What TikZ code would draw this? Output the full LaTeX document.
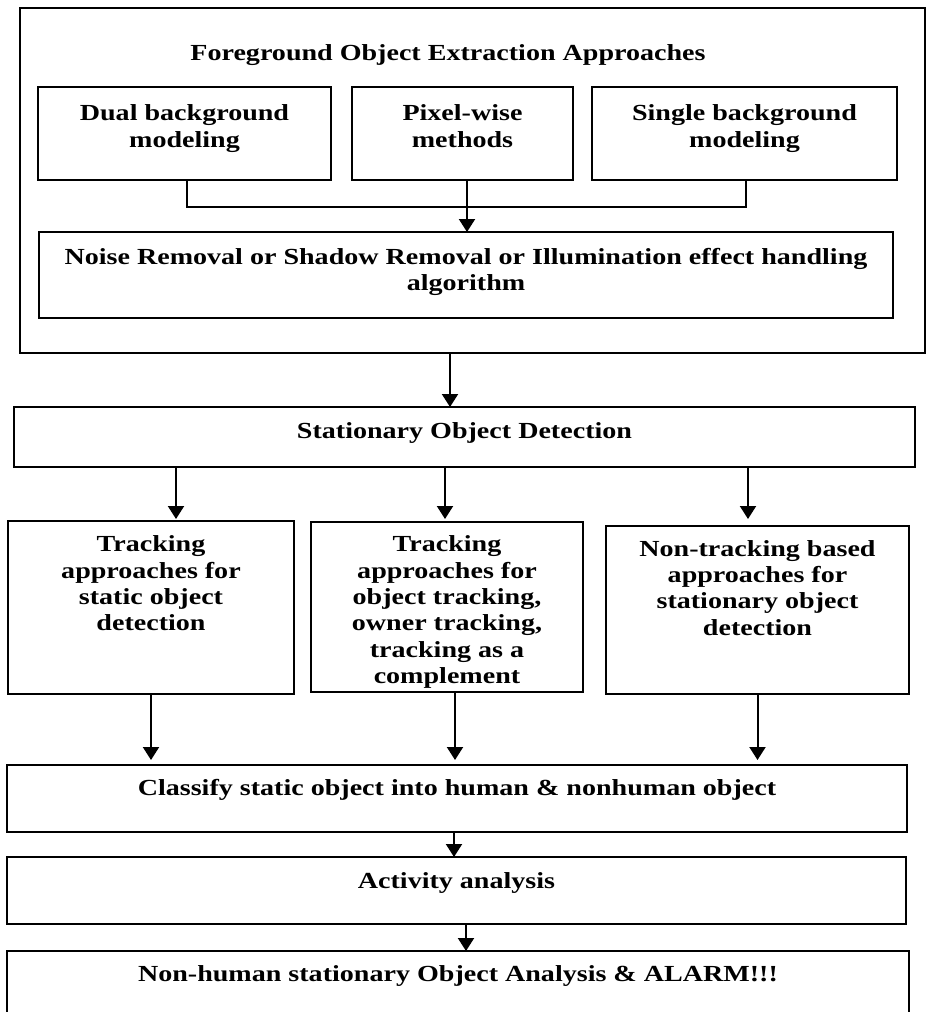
\documentclass[tikz,border=0pt]{standalone}
\usepackage{fontspec}
\setmainfont{Liberation Serif}[FakeStretch=1.22]
\usetikzlibrary{arrows.meta}
\newcommand\bfnt{\fontsize{23}{26.4}\selectfont\bfseries}
\newcommand\bxtext[4]{\parbox[c][#2][t]{#1}{\centering\vspace*{#3}\rule{0pt}{20pt}#4\par}}
\tikzset{
  bx/.style={draw, line width=2.2pt, inner sep=0pt, outer sep=0pt, anchor=north west, font=\bfnt},
  outerbx/.style={draw, line width=2.6pt, inner sep=0pt, outer sep=0pt, anchor=north west,
                  minimum width=905pt, minimum height=345pt},
  txt/.style={font=\bfnt, inner sep=0pt},
  ln/.style={line width=2pt},
  arr/.style={line width=2pt, -{Triangle[width=16pt,length=13pt]}}
}
\begin{document}
\begin{tikzpicture}[x=1pt, y=-1pt]
\useasboundingbox (0,0) rectangle (929,1012);
\fill[white] (0,0) rectangle (929,1012);
\clip (0,0) rectangle (929,1012);

\node[outerbx] (outer) at (20,8) {};
\node[txt, anchor=base] (title) at (448,60) {Foreground Object Extraction Approaches};

\node[bx] (dual) at (38,87) {\bxtext{293pt}{93pt}{13.7pt}{Dual background\\modeling}};
\node[bx] (pixel) at (352,87) {\bxtext{221pt}{93pt}{13.7pt}{Pixel-wise\\methods}};
\node[bx] (single) at (592,87) {\bxtext{305pt}{93pt}{13.7pt}{Single background\\modeling}};
\node[bx] (noise) at (39,232) {\bxtext{854pt}{86pt}{12pt}{Noise Removal or Shadow Removal or Illumination effect handling\\algorithm}};

\node[bx] (stat) at (14,407) {\bxtext{901pt}{60pt}{11pt}{Stationary Object Detection}};

\node[bx] (t1) at (8,521) {\bxtext{286pt}{173pt}{10.7pt}{Tracking\\approaches for\\static object\\detection}};
\node[bx] (t2) at (311,522) {\bxtext{272pt}{170pt}{9.7pt}{Tracking\\approaches for\\object tracking,\\owner tracking,\\tracking as a\\complement}};
\node[bx] (t3) at (606,526) {\bxtext{303pt}{168pt}{10pt}{Non-tracking based\\approaches for\\stationary object\\detection}};

\node[bx] (cls) at (7,765) {\bxtext{900pt}{67pt}{10pt}{Classify static object into human \& nonhuman object}};
\node[bx] (act) at (7,857) {\bxtext{899pt}{67pt}{11pt}{Activity analysis}};
\node[bx] (nh) at (7,951) {\bxtext{902pt}{80pt}{10.7pt}{Non-human stationary Object Analysis \& ALARM!!!}};

% connectors inside the extraction block
\coordinate (hb) at (0,207);
\draw[ln] ([xshift=2.5pt]dual.south) -- ([xshift=2.5pt]dual.south |- hb)
          -- ([xshift=1.5pt]single.south |- hb) -- ([xshift=1.5pt]single.south);
\draw[arr] ([xshift=4.5pt]pixel.south) -- ([xshift=4.5pt]pixel.south |- noise.north);

% block -> stationary detection
\draw[arr] ([xshift=-22.5pt]outer.south) -- ([xshift=-22.5pt]outer.south |- stat.north);

% stationary detection -> three approaches
\draw[arr, shorten >=2pt] ([xshift=25pt]t1.north |- stat.south) -- ([xshift=25pt]t1.north);
\draw[arr, shorten >=3pt] ([xshift=-2pt]t2.north |- stat.south) -- ([xshift=-2pt]t2.north);
\draw[arr, shorten >=7pt] ([xshift=-9.5pt]t3.north |- stat.south) -- ([xshift=-9.5pt]t3.north);

% approaches -> classify
\draw[arr, shorten >=5pt] (t1.south) -- (t1.south |- cls.north);
\draw[arr, shorten >=5pt] ([xshift=8pt]t2.south) -- ([xshift=8pt]t2.south |- cls.north);
\draw[arr, shorten >=5pt] (t3.south) -- (t3.south |- cls.north);

% classify -> activity -> alarm
\draw[arr] ([xshift=-3pt]cls.south) -- ([xshift=-3pt]cls.south |- act.north);
\draw[arr] ([xshift=9.5pt]act.south) -- ([xshift=9.5pt]act.south |- nh.north);
\end{tikzpicture}
\end{document}
